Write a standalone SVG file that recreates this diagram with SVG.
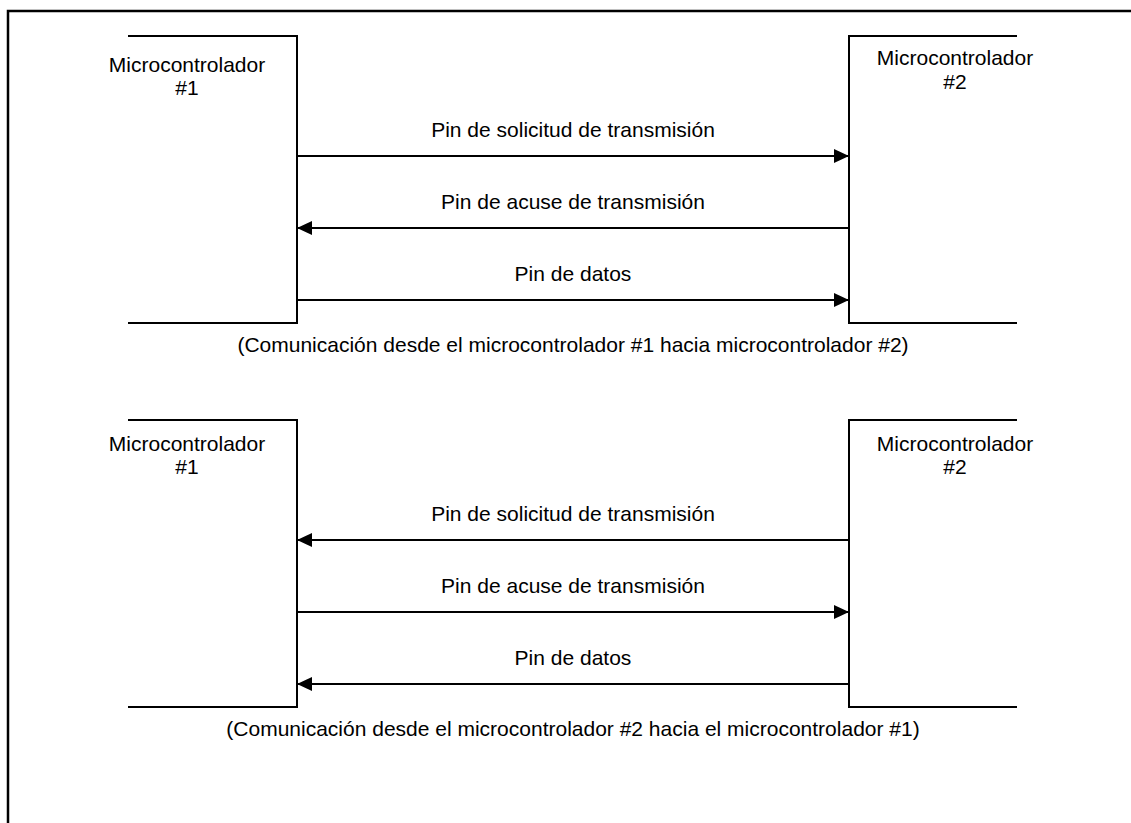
<svg xmlns="http://www.w3.org/2000/svg" width="1131" height="823" viewBox="0 0 1131 823">
<defs>
<style>
.ln{stroke:#000;stroke-width:2;fill:none}
.bd{stroke:#000;stroke-width:2.5;fill:none}
.t{font-family:"Liberation Sans",Arial,sans-serif;font-size:21px;fill:#000;text-anchor:middle}
</style>
<marker id="ah" markerUnits="userSpaceOnUse" markerWidth="16" markerHeight="16" viewBox="0 0 16 16" refX="15" refY="8" orient="auto">
<path d="M0,1 L15,8 L0,15 Z" fill="#000"/>
</marker>
</defs>
<rect width="1131" height="823" fill="#fff"/>
<path class="bd" d="M8,823 V11 H1131"/>
<g id="sec1">
<g id="mc1a">
<path class="ln" d="M128,36 H297 V323 H128"/>
<text class="t" x="187" y="72">Microcontrolador</text>
<text class="t" x="187" y="95">#1</text>
</g>
<g id="mc2a">
<path class="ln" d="M1017,36 H849 V323 H1017"/>
<text class="t" x="955" y="65">Microcontrolador</text>
<text class="t" x="955" y="89">#2</text>
</g>
<g id="conn1">
<line class="ln" x1="297" y1="156" x2="849" y2="156" marker-end="url(#ah)"/>
<line class="ln" x1="849" y1="228" x2="297" y2="228" marker-end="url(#ah)"/>
<line class="ln" x1="297" y1="300" x2="849" y2="300" marker-end="url(#ah)"/>
<text class="t" x="573" y="137">Pin de solicitud de transmisión</text>
<text class="t" x="573" y="209">Pin de acuse de transmisión</text>
<text class="t" x="573" y="281">Pin de datos</text>
</g>
<text class="t" x="573" y="352">(Comunicación desde el microcontrolador #1 hacia microcontrolador #2)</text>
</g>
<g id="sec2">
<g id="mc1b">
<path class="ln" d="M128,420 H297 V707 H128"/>
<text class="t" x="187" y="451">Microcontrolador</text>
<text class="t" x="187" y="474">#1</text>
</g>
<g id="mc2b">
<path class="ln" d="M1017,420 H849 V707 H1017"/>
<text class="t" x="955" y="451">Microcontrolador</text>
<text class="t" x="955" y="474">#2</text>
</g>
<g id="conn2">
<line class="ln" x1="849" y1="540" x2="297" y2="540" marker-end="url(#ah)"/>
<line class="ln" x1="297" y1="612" x2="849" y2="612" marker-end="url(#ah)"/>
<line class="ln" x1="849" y1="684" x2="297" y2="684" marker-end="url(#ah)"/>
<text class="t" x="573" y="521">Pin de solicitud de transmisión</text>
<text class="t" x="573" y="593">Pin de acuse de transmisión</text>
<text class="t" x="573" y="665">Pin de datos</text>
</g>
<text class="t" x="573" y="736">(Comunicación desde el microcontrolador #2 hacia el microcontrolador #1)</text>
</g>
</svg>
